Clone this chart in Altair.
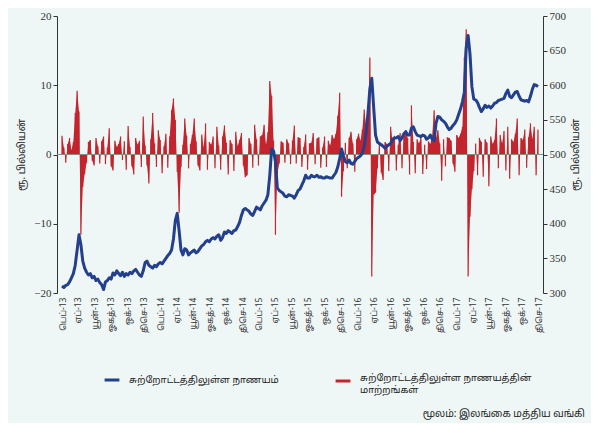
import altair as alt
import pandas as pd

# ---------------- data ----------------
START = "2013-02-01"  # weekly observations

CURRENCY = [  # currency in circulation, Rs. billion (right axis)
    310, 308, 311, 312, 316, 322, 328, 340, 362, 384,
    370, 346, 336, 330, 326, 328, 322, 324, 318, 320,
    315, 312, 305, 316, 318, 322, 320, 329, 326, 332,
    328, 325, 330, 324, 328, 326, 330, 328, 332, 334,
    330, 326, 324, 332, 344, 346, 340, 338, 336, 340,
    338, 342, 344, 342, 346, 350, 354, 357, 362, 378,
    405, 415, 390, 362, 355, 364, 362, 355, 358, 360,
    362, 358, 360, 364, 368, 370, 374, 376, 374, 378,
    380, 378, 382, 384, 376, 380, 388, 386, 390, 388,
    386, 390, 391, 396, 402, 412, 420, 422, 420, 418,
    414, 412, 418, 424, 422, 420, 426, 430, 434, 442,
    470, 508, 505, 490, 452, 448, 446, 444, 440, 439,
    442, 441, 440, 437, 442, 448, 450, 456, 462, 470,
    466, 466, 470, 468, 468, 470, 467, 468, 466, 466,
    468, 467, 466, 466, 470, 474, 482, 494, 508, 498,
    490, 488, 492, 487, 486, 490, 494, 496, 498, 502,
    512, 532, 560, 595, 610, 568, 528, 518, 516, 514,
    512, 509, 512, 514, 516, 522, 524, 524, 526, 520,
    524, 530, 533, 528, 528, 538, 540, 533, 528, 527,
    526, 528, 527, 522, 524, 528, 522, 520, 545, 555,
    554, 550, 548, 545, 540, 536, 538, 542, 545, 550,
    558, 566, 576, 590, 655, 672, 645, 598, 580, 579,
    575, 568, 562, 566, 571, 568, 570, 567, 570, 574,
    575, 578, 579, 580, 581, 588, 593, 584, 582, 586,
    590, 591, 584, 579, 578, 577, 578, 576, 584, 594,
    601, 600, 598,
]

CHANGE = [  # change in currency in circulation, Rs. billion (left axis)
    2.7, 1.0, -1.2, 1.5, 2.4, 0.6, 1.8, 6.0, 9.2, 6.2,
    -11.6, -4.7, -2.8, -1.2, 1.8, 2.1, -0.9, -1.6, 2.4, 1.2,
    -1.3, 1.9, 2.6, -1.4, 1.0, 3.8, -1.7, -2.3, 2.0, 1.1,
    1.5, 2.6, -0.8, 1.9, -2.2, 4.1, 1.1, -1.7, -2.9, 2.4,
    1.4, 2.0, -1.8, 5.5, 1.3, -1.6, -4.2, 2.2, 6.0, 1.6,
    -1.8, 3.5, 2.1, -2.7, 1.2, 3.0, -1.9, 2.6, 6.4, 8.1,
    5.0, -2.5, -8.4, -1.8, 1.4, 5.2, 2.7, -2.0, 1.5, 2.8,
    5.2, 1.9, -1.6, -2.3, 2.9, 1.0, 4.5, -2.2, 1.8, 1.4,
    2.6, -2.0, 4.0, 1.3, -2.2, 2.6, 4.2, 1.7, -2.9, 2.1,
    1.5, -2.4, 3.3, 1.2, 2.1, 3.1, -1.6, -3.3, -3.0, 2.4,
    1.5, -1.9, 4.3, 2.2, -1.6, 2.6, 2.8, 4.3, 1.4, 3.2,
    10.6, 8.5, 2.0, -11.6, -2.8, -1.3, 1.9, 1.7, -1.2, 2.2,
    1.6, -1.4, 2.0, 4.2, -1.3, 2.5, 2.4, -1.8, 1.1, 2.9,
    -2.2, 1.6, 1.7, 3.1, -1.4, 2.3, 2.5, -1.9, 1.0, 2.6,
    -1.8, 2.0, 1.3, 2.8, 2.2, 3.0, 5.6, 8.9, -6.1, -2.4,
    1.7, -2.0, 2.4, 3.3, 1.6, -2.5, 2.2, 3.0, 2.0, 3.6,
    6.5, 4.2, 5.8, 14.0, -17.6, -5.8, -5.5, -2.0, 1.6, -2.6,
    -3.7, 1.8, 1.5, -2.4, 4.0, 1.9, 2.7, -2.3, 1.4, 3.1,
    -2.0, 2.6, 3.5, 2.4, -2.9, 7.1, 1.8, -2.7, 2.2, 1.6,
    2.5, -2.8, 1.4, -2.1, 1.9, 1.5, 2.8, 6.4, 2.4, 3.5,
    1.6, -3.8, 2.2, -1.7, 2.5, 2.4, 2.0, -1.3, -2.5, 2.8,
    2.4, 3.0, 4.0, 14.0, 18.1, -17.6, -9.0, -5.0, -2.4, 1.6,
    -3.0, 2.4, 1.8, -3.2, 2.2, 1.7, -4.6, 2.6, 1.5, 2.1,
    5.2, -2.0, 2.8, 1.6, 3.4, -2.3, 4.0, -3.5, 2.2, 1.8,
    3.0, 5.2, -3.0, 2.4, 2.1, 3.6, -1.9, 2.5, 4.5, 2.2,
    4.0, -3.0, 3.6,
]

SERIES = ["சுற்றோட்டத்திலுள்ள நாணயம்", "சுற்றோட்டத்திலுள்ள நாணயத்தின் மாற்றங்கள்"]
SERIES2_LINES = ["சுற்றோட்டத்திலுள்ள நாணயத்தின்", "மாற்றங்கள்"]
MONTHS = ["ஜன", "பெப்", "மார்", "ஏப்", "மே", "யூன்", "யூலை", "ஓகத்", "செப்", "ஒக்", "நவ", "திசெ"]
TICK_YEARS = [2013, 2014, 2015, 2016, 2017]
TICK_MONTHS = [2, 4, 6, 8, 10, 12]
LEFT_TICKS = [-20, -15, -10, -5, 0, 5, 10, 15, 20]
RIGHT_TICKS = [300, 350, 400, 450, 500, 550, 600, 650, 700]
Y_TITLE = "ரூ. பில்லியன்"
SOURCE = "மூலம்: இலங்கை மத்திய வங்கி"

BLUE = "#243f8b"
RED = "#c3252e"
BG = "#eef7f5"
TAMIL = "Noto Sans Tamil, Latha, Lato, sans-serif"
SERIF = "Liberation Serif, Times New Roman, serif"

dates = pd.date_range(START, periods=len(CURRENCY), freq="7D")
df_line = pd.DataFrame({"date": dates, "value": CURRENCY, "series": SERIES[0]})
df_bar = pd.DataFrame({"date": dates, "value": CHANGE, "series": SERIES[1]})

tick_values = [alt.DateTime(year=y, month=m, date=1) for y in TICK_YEARS for m in TICK_MONTHS]
month_arr = "[" + ",".join("'" + m + "'" for m in MONTHS) + "]"

xenc = alt.X(
    "date:T",
    scale=alt.Scale(domain=[alt.DateTime(year=2013, month=2, date=1),
                            alt.DateTime(year=2017, month=12, date=1)]),
    axis=alt.Axis(
        values=tick_values, title=None, domain=False, ticks=False, grid=False,
        labelAngle=270, labelAlign="right", labelBaseline="middle",
        labelFont=TAMIL, labelFontSize=8.5, labelColor="#333333", labelPadding=4,
        labelExpr=month_arr + "[month(datum.value)] + '-' + timeFormat(datum.value, '%y')",
        labelOverlap=False,
    ),
)

stroke_enc = alt.Stroke(
    "series:N",
    scale=alt.Scale(domain=[SERIES[0]], range=[BLUE]),
    legend=alt.Legend(
        title=None, orient="none", legendX=46, legendY=355,
        symbolType="stroke", symbolStrokeWidth=3, symbolSize=220,
        labelFont=TAMIL, labelFontSize=9.5, labelColor="#222222", labelLimit=300,
        labelOffset=8,
    ),
)

lines2 = "[" + ",".join("'" + s + "'" for s in SERIES2_LINES) + "]"
fill_enc = alt.Fill(
    "series:N",
    scale=alt.Scale(domain=[SERIES[1]], range=[RED]),
    legend=alt.Legend(
        title=None, orient="none", legendX=277, legendY=356,
        symbolType="stroke", symbolStrokeWidth=3, symbolSize=220,
        symbolStrokeColor=RED,
        labelFont=TAMIL, labelFontSize=9.5, labelColor="#222222", labelLimit=300,
        labelOffset=8, labelBaseline="alphabetic",
        labelExpr=lines2,
    ),
)

left_axis = alt.Axis(
    values=LEFT_TICKS, title=Y_TITLE, titleFont=TAMIL, titleFontSize=10,
    titleFontWeight="normal", titleColor="#222222", titlePadding=7,
    labelFont=SERIF, labelFontSize=11, labelColor="#333333",
    domainColor="#333333", tickColor="#333333", tickSize=4, grid=False,
)

area = alt.Chart(df_bar).mark_area(interpolate="linear", opacity=1).encode(
    x=xenc,
    y=alt.Y("value:Q", scale=alt.Scale(domain=[-20, 20], nice=False), axis=left_axis),
    fill=fill_enc,
)

bar_edges = alt.Chart(df_bar).mark_bar(size=1.2).encode(
    x=xenc,
    y=alt.Y("value:Q"),
    fill=fill_enc,
)

zero = alt.Chart(df_bar).mark_rule(color="#8a8a8a", strokeWidth=1).encode(
    y=alt.datum(0),
)

line = alt.Chart(df_line).mark_line(strokeWidth=3, strokeJoin="round").encode(
    x=xenc,
    y=alt.Y(
        "value:Q",
        scale=alt.Scale(domain=[300, 700], nice=False, zero=False),
        axis=alt.Axis(
            orient="right", values=RIGHT_TICKS, title=Y_TITLE, titleFont=TAMIL,
            titleFontSize=10, titleFontWeight="normal", titleColor="#222222",
            titleAngle=270, titlePadding=15,
            labelFont=SERIF, labelFontSize=11, labelColor="#333333",
            domainColor="#333333", tickColor="#333333", tickSize=4, grid=False,
        ),
    ),
    stroke=stroke_enc,
)

chart = (
    alt.layer(alt.layer(area, bar_edges, zero), line)
    .resolve_scale(y="independent")
    .properties(
        width=486, height=277,
        autosize=alt.AutoSizeParams(type="none"),
        padding={"left": 49, "top": 8, "right": 48, "bottom": 130},
        background=BG,
        title=alt.TitleParams(
            SOURCE, orient="bottom", anchor="end", frame="group", font=TAMIL,
            fontSize=10, fontWeight="normal", color="#222222", offset=15, dx=42,
        ),
    )
    .configure_view(stroke=None)
)

chart.save("out.html", embed_options={"renderer": "svg", "actions": False})
